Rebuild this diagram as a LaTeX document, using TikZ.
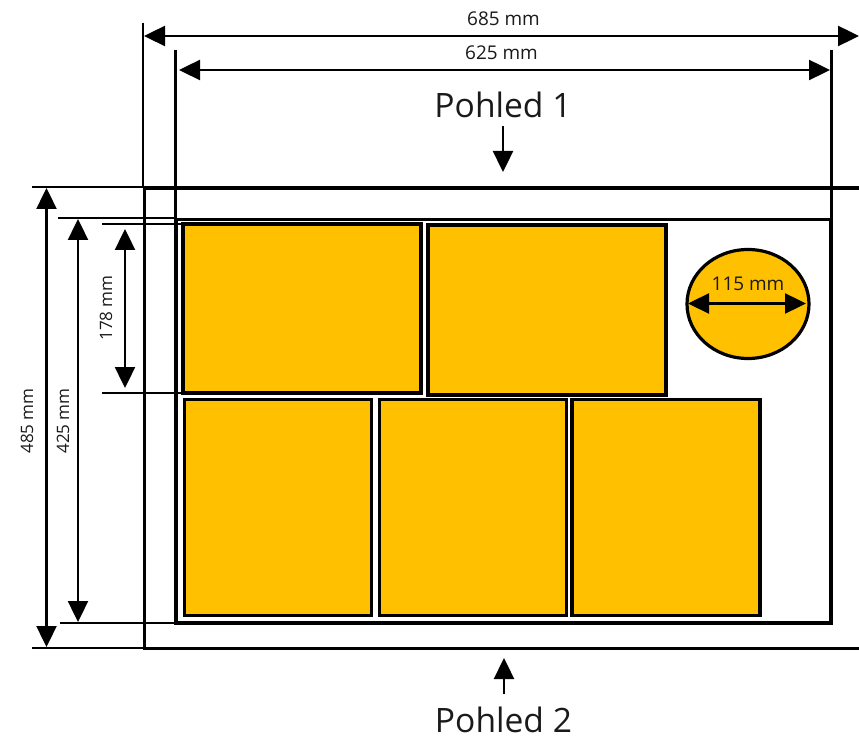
\documentclass[tikz,border=0pt]{standalone}
\usepackage{fontspec}
\setmainfont{Open Sans}
\usepackage{xcolor}
\usetikzlibrary{arrows, arrows.meta}
\usetikzlibrary{calc}
\usetikzlibrary{shapes.geometric}
\definecolor{panelfill}{HTML}{FFC000}
\definecolor{labelgray}{HTML}{1A1A1A}
\tikzset{
  panel/.style={rectangle, draw, fill=panelfill, line width=2.4pt, inner sep=0pt},
  dimline/.style={line width=1.8pt, {Triangle[length=15.75pt, width=15pt]}-{Triangle[length=15.75pt, width=15pt]}},
  viewline/.style={line width=1.8pt, -{Triangle[length=15.75pt, width=15pt]}},
  extline/.style={line width=1.7pt},
  dimlabel/.style={font=\fontsize{14.2}{16}\selectfont, text=labelgray, inner sep=0pt},
  sidelabel/.style={font=\fontsize{12.8}{15}\selectfont, text=labelgray, inner sep=0pt, rotate=90},
  viewlabel/.style={font=\fontsize{25.2}{28}\selectfont, text=labelgray, inner sep=0pt}
}

\begin{document}
\begin{tikzpicture}[x=0.75pt, y=-0.75pt]
      \useasboundingbox (0, 0) rectangle (859, 741);

      % stock outline, open on the right
      \coordinate (outertr) at (859, 188);
      \coordinate (outertl) at (144.5, 188);
      \coordinate (outerbl) at (144.5, 648.5);
      \coordinate (outerbr) at (859, 648.5);
      \draw[line width=2.5pt] (outertr) -- (outertl) -- (outerbl) -- (outerbr);

      \node[rectangle, draw, line width=2.3pt, minimum width=655pt*0.75, minimum height=403.5pt*0.75, inner sep=0pt] (inner) at (503.5, 421.25) {};

      \node[panel, minimum width=238pt*0.75, minimum height=169pt*0.75] (a) at (302, 308.5) {};
      \node[panel, minimum width=238pt*0.75, minimum height=170pt*0.75] (b) at (547, 310) {};
      \node[panel, minimum width=187pt*0.75, minimum height=216pt*0.75] (c) at (278, 507.5) {};
      \node[panel, minimum width=187pt*0.75, minimum height=216pt*0.75] (d) at (473, 507.5) {};
      \node[panel, minimum width=188pt*0.75, minimum height=216pt*0.75] (e) at (666, 507.5) {};
      \node[ellipse, draw, fill=panelfill, line width=2.4pt, minimum width=122pt*0.75, minimum height=109pt*0.75, inner sep=0pt] (disc) at (748, 304) {};

      % extension lines
      \coordinate (x685a) at (143, 23);
      \coordinate (x685b) at (143, 188);
      \coordinate (x625a) at (175.5, 50);
      \coordinate (x625b) at (175.5, 219);
      \coordinate (x625c) at (831.5, 50);
      \coordinate (x625d) at (831.5, 219);
      \draw[extline] (x685a) -- (x685b);
      \draw[extline] (x625a) -- (x625b);
      \draw[extline] (x625c) -- (x625d);

      \coordinate (y485a) at (32, 187);
      \coordinate (y485b) at (144, 187);
      \coordinate (y485c) at (32, 648);
      \coordinate (y485d) at (144, 648);
      \coordinate (y425a) at (58, 218);
      \coordinate (y425b) at (176, 218);
      \coordinate (y425c) at (60, 623);
      \coordinate (y425d) at (176, 623);
      \coordinate (y178a) at (102, 224);
      \coordinate (y178b) at (183, 224);
      \coordinate (y178c) at (102, 393);
      \coordinate (y178d) at (183, 393);
      \draw[extline] (y485a) -- (y485b);
      \draw[extline] (y485c) -- (y485d);
      \draw[extline] (y425a) -- (y425b);
      \draw[extline] (y425c) -- (y425d);
      \draw[extline] (y178a) -- (y178b);
      \draw[extline] (y178c) -- (y178d);

      % dimension arrows
      \coordinate (d685l) at (144, 36);
      \coordinate (d685r) at (859, 36);
      \coordinate (d625l) at (179, 70);
      \coordinate (d625r) at (830, 70);
      \coordinate (d485t) at (46.5, 188);
      \coordinate (d485b) at (46.5, 647);
      \coordinate (d425t) at (78, 219);
      \coordinate (d425b) at (78, 622);
      \coordinate (d178t) at (125, 229);
      \coordinate (d178b) at (125, 388);
      \coordinate (d115l) at (688, 303.5);
      \coordinate (d115r) at (806, 303.5);
      \draw[dimline] (d685l) -- (d685r);
      \draw[dimline] (d625l) -- (d625r);
      \draw[dimline] (d485t) -- (d485b);
      \draw[dimline] (d425t) -- (d425b);
      \draw[dimline] (d178t) -- (d178b);
      \draw[dimline] (d115l) -- (d115r);

      \coordinate (v1a) at (503, 126);
      \coordinate (v1b) at (503, 172);
      \coordinate (v2a) at (504, 694);
      \coordinate (v2b) at (504, 658);
      \draw[viewline] (v1a) -- (v1b);
      \draw[viewline] (v2a) -- (v2b);

      \node[dimlabel] (l685) at (503.5, 19) {685 mm};
      \node[dimlabel] (l625) at (501.5, 53) {625 mm};
      \node[dimlabel] (l115) at (748, 284) {115 mm};
      \node[sidelabel] (l485) at (27, 421) {485 mm};
      \node[sidelabel] (l425) at (63, 421) {425 mm};
      \node[sidelabel] (l178) at (106, 308) {178 mm};
      \node[viewlabel] (p1) at (503, 105) {Pohled 1};
      \node[viewlabel] (p2) at (503.5, 720) {Pohled 2};
\end{tikzpicture}
\end{document}
